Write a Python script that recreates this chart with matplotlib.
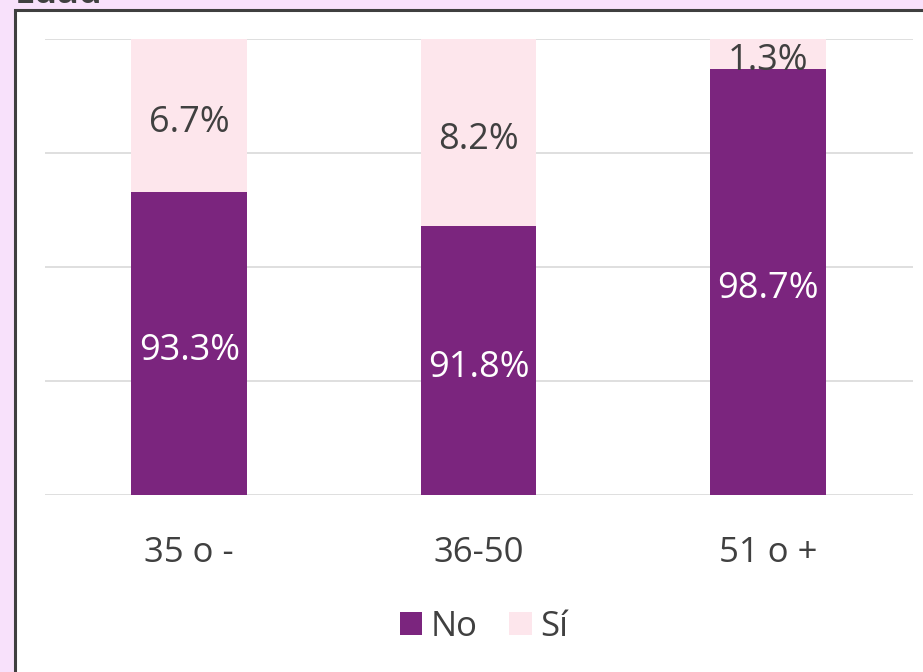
import matplotlib.pyplot as plt
from matplotlib.patches import Rectangle
import numpy as np

categories = ['35 o -', '36-50', '51 o +']
no_vals = [93.3, 91.8, 98.7]
si_vals = [6.7, 8.2, 1.3]
series_names = ['No', 'Sí']

purple = '#7B257E'
pink = '#FDE6EC'
text_col = '#404040'

plt.rcParams['font.family'] = ['Open Sans', 'DejaVu Sans']

fig = plt.figure(figsize=(9.23, 6.72), dpi=100)
fig.patch.set_facecolor('#F8E1FB')

W, H = 923, 672
# white panel with dark border (cropped on right and bottom)
fig.patches.append(Rectangle((15 / W, -0.05), 1.0, (H - 10) / H + 0.05,
                             transform=fig.transFigure, facecolor='white',
                             edgecolor='#3F3F3F', linewidth=2.2, zorder=-5))
fig.text(15 / W, 1 - 3 / H, 'Edad', fontsize=26, fontweight='bold',
         color=text_col, ha='left', va='baseline')

ax = fig.add_axes([44.5 / W, 1 - 495 / H, 868 / W, 456 / H], zorder=2)
ax.set_facecolor('none')
x = np.arange(len(categories))
ax.bar(x, no_vals, width=0.4, color=purple, label=series_names[0], zorder=2)
ax.bar(x, si_vals, bottom=no_vals, width=0.4, color=pink, label=series_names[1], zorder=2)

ax.set_ylim(80, 100)
ax.set_xlim(-0.5, 2.5)
ax.set_yticks([80, 85, 90, 95, 100])
ax.yaxis.grid(True, color='#D9D9D9', linewidth=1.2, zorder=0)
ax.set_axisbelow(True)
ax.tick_params(axis='y', left=False, labelleft=False)
ax.tick_params(axis='x', bottom=False, pad=26)
ax.set_xticks(x)
ax.set_xticklabels(categories, fontsize=25, color=text_col)
for s in ax.spines.values():
    s.set_visible(False)

# labels sit slightly below the segment centre, as in the source
shift = 0.33
for i in range(len(categories)):
    ax.text(x[i], (80 + no_vals[i]) / 2 - shift, f'{no_vals[i]:.1f}%', ha='center', va='center',
            fontsize=26, color='white', zorder=3)
    top = min(100, no_vals[i] + si_vals[i])
    ax.text(x[i], (no_vals[i] + top) / 2 - (shift if si_vals[i] > 3 else 0.3),
            f'{si_vals[i]:.1f}%', ha='center', va='center',
            fontsize=26, color=text_col, zorder=3)

leg = fig.legend(loc='center', bbox_to_anchor=(484 / W, 1 - 627 / H), ncol=2,
                 frameon=False, fontsize=25, handlelength=0.65, handleheight=0.65,
                 handletextpad=0.25, columnspacing=0.9, labelcolor=text_col)

fig.savefig('out.png', dpi=100, facecolor=fig.get_facecolor())
